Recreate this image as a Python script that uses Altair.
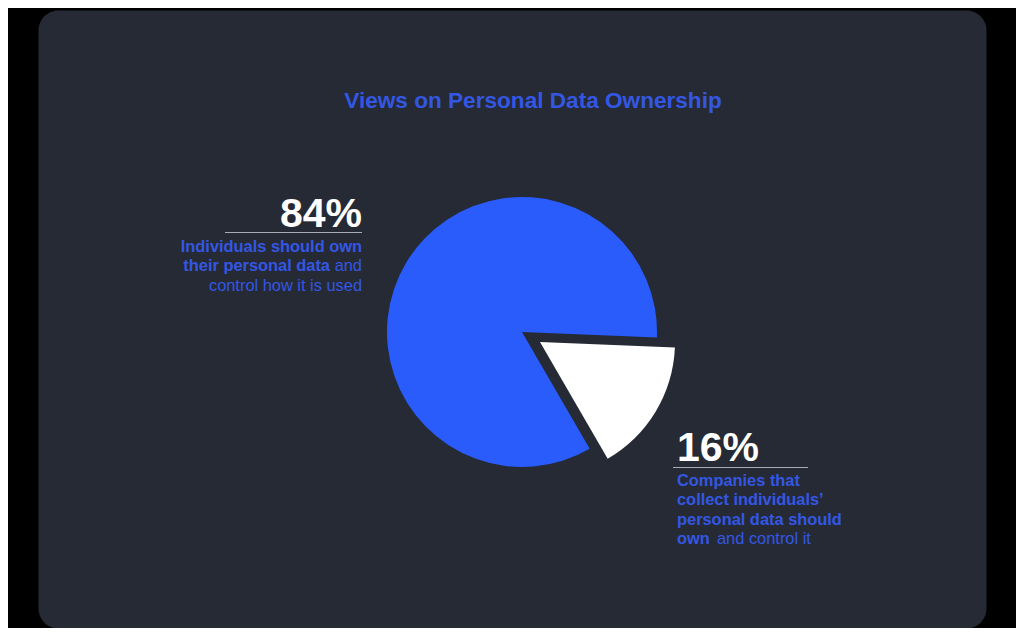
import altair as alt
import pandas as pd

# ---- data ----
categories = ["Companies", "Individuals"]
shares = [16, 84]
slice_order = [0, 1]

title_text = "Views on Personal Data Ownership"
left_bold = ["Individuals should own", "their personal data"]
left_normal = ["and", "control how it is used"]
right_bold = ["Companies that", "collect individuals\u2019", "personal data should", "own"]
right_normal = ["and control it"]

BLUE = "#2a5bfb"
TEXT_BLUE = "#3457e3"
WHITE = "#ffffff"
PANEL = "#252a35"
FONT = "Liberation Sans"

pie_df = pd.DataFrame({"category": categories, "share": shares, "order": slice_order})

CX, CY, R = 484, 322, 135
START = 1.611
TWO_PI = 6.283185307


def pie_layer(show, dx=0, dy=0):
    return alt.Chart(pie_df).mark_arc(radius=R, xOffset=dx, yOffset=dy).encode(
        theta=alt.Theta("share:Q", stack=True,
                        scale=alt.Scale(domain=[0, 100], range=[START, START + TWO_PI])),
        order=alt.Order("order:Q"),
        color=alt.Color("category:N", legend=None,
                        scale=alt.Scale(domain=categories, range=[WHITE, BLUE])),
        opacity=alt.condition(alt.datum.category == show, alt.value(1), alt.value(0)),
        x=alt.value(CX), y=alt.value(CY),
    )


def text_mark(txt, x, y, size, weight, color, align):
    return alt.Chart(pd.DataFrame({"t": [txt]})).mark_text(
        font=FONT, fontSize=size, fontWeight=weight, color=color,
        align=align, baseline="alphabetic",
    ).encode(text="t:N", x=alt.value(x), y=alt.value(y))


def rule_mark(x1, x2, y):
    return alt.Chart(pd.DataFrame({"a": [0]})).mark_rule(
        color="#a9acb3", strokeWidth=1.2
    ).encode(x=alt.value(x1), x2=alt.value(x2), y=alt.value(y))


blue_layer = pie_layer("Individuals")
white_layer = pie_layer("Companies", dx=18, dy=10)

pct_ind = f"{shares[1]}%"
pct_com = f"{shares[0]}%"

FS = 16.4
LH = 19.3

layers = [
    blue_layer,
    white_layer,
    text_mark(title_text, 495, 98, 22.6, "bold", TEXT_BLUE, "center"),
    # left label
    text_mark(pct_ind, 324, 217, 41, "bold", WHITE, "right"),
    rule_mark(187, 324, 222.5),
    text_mark(left_bold[0], 324, 242, FS, "bold", TEXT_BLUE, "right"),
    text_mark(left_bold[1], 292, 242 + LH, FS, "bold", TEXT_BLUE, "right"),
    text_mark(left_normal[0], 324, 242 + LH, FS, "normal", TEXT_BLUE, "right"),
    text_mark(left_normal[1], 324, 242 + 2 * LH, FS, "normal", TEXT_BLUE, "right"),
    # right label
    text_mark(pct_com, 639, 451, 41, "bold", WHITE, "left"),
    rule_mark(635, 770, 457.5),
    text_mark(right_bold[0], 639, 476, FS, "bold", TEXT_BLUE, "left"),
    text_mark(right_bold[1], 639, 476 + LH, FS, "bold", TEXT_BLUE, "left"),
    text_mark(right_bold[2], 639, 476 + 2 * LH, FS, "bold", TEXT_BLUE, "left"),
    text_mark(right_bold[3], 639, 476 + 3 * LH, FS, "bold", TEXT_BLUE, "left"),
    text_mark(right_normal[0], 679, 476 + 3 * LH, FS, "normal", TEXT_BLUE, "left"),
]

chart = alt.layer(*layers).properties(
    width=948,
    height=618,
    background="#000000",
    padding={"left": 30, "top": 2, "right": 30, "bottom": 0},
    autosize="none",
).configure_view(
    fill=PANEL, cornerRadius=20, stroke="transparent"
)

chart.save("out.html", embed_options={"renderer": "svg", "actions": False})
